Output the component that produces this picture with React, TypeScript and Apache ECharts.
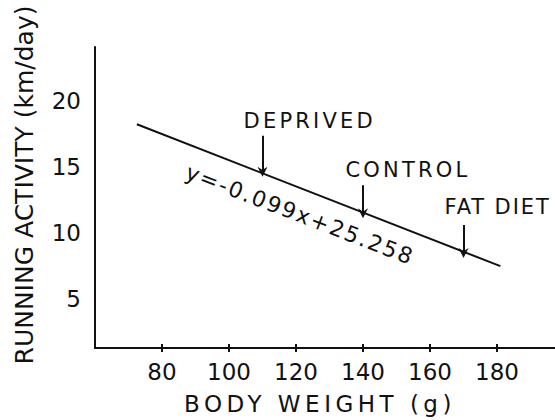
import React, { useEffect, useRef } from "react";
import * as echarts from "echarts";

// ---- data ----
const xMin = 60;
const xMax = 197.3;
const yMin = 1.3;
const yMax = 24.1;
const xTicks = [80, 100, 120, 140, 160, 180];
const yTicks = [5, 10, 15, 20];

// regression line endpoints (body weight g, running km/day)
const fitX = [72.5, 181];
const fitY = [18.25, 7.5];

// group annotations
const groups = ["DEPRIVED", "CONTROL", "FAT DIET"];
const arrowX = [110, 140, 170];
const arrowTop = [17.37, 13.62, 10.62];
const arrowTip = [14.65, 11.5, 8.5];
const labelX = [104.2, 134.6, 164.2];
const labelY = [18.48, 14.75, 11.95];
const labelSpacing = [3.2, 3.2, 1.9];

const equation = "y=-0.099x+25.258";
const equationPos = [121.2, 11.4];

const xName = "BODY WEIGHT (g)";
const yName = "RUNNING ACTIVITY (km/day)";

const INK = "#111";
const FONT = "DejaVu Sans";
const ARROW = "path://M5,0 L10,12 L5,8 L0,12 Z";

export default function App() {
  const ref = useRef<HTMLDivElement>(null);

  useEffect(() => {
    if (!ref.current) return;
    const chart = echarts.init(ref.current, undefined, { renderer: "svg" });

    const axisCommon = {
      type: "value" as const,
      min: xMin,
      max: xMax,
      splitLine: { show: false },
    };

    const option: any = {
      animation: false,
      grid: { left: 95, right: 0, top: 47, bottom: 69 },
      xAxis: [
        {
          ...axisCommon,
          name: xName,
          nameLocation: "middle",
          nameGap: 44,
          nameTextStyle: { fontSize: 23, color: INK, fontFamily: FONT, padding: [0, 10, 0, 0] },
          axisLine: { show: true, onZero: false, lineStyle: { color: INK, width: 2 } },
          axisTick: { show: true, inside: false, length: 4, lineStyle: { color: INK, width: 2 }, customValues: xTicks },
          axisLabel: { show: true, customValues: xTicks, fontSize: 23, color: INK, fontFamily: FONT, margin: 12 },
        },
        {
          ...axisCommon,
          position: "bottom",
          axisLine: { show: false },
          axisTick: { show: true, inside: true, length: 4, lineStyle: { color: INK, width: 2 }, customValues: xTicks },
          axisLabel: { show: false },
        },
      ],
      yAxis: {
        type: "value",
        min: yMin,
        max: yMax,
        splitLine: { show: false },
        name: yName,
        nameLocation: "middle",
        nameGap: 58,
        nameTextStyle: { fontSize: 25, color: INK, fontFamily: FONT, padding: [0, 0, 0, 25] },
        axisLine: { show: true, onZero: false, lineStyle: { color: INK, width: 2 } },
        axisTick: { show: false },
        axisLabel: { show: true, customValues: yTicks, fontSize: 23, color: INK, fontFamily: FONT, margin: 14 },
      },
      series: [
        {
          type: "line",
          xAxisIndex: 0,
          silent: true,
          showSymbol: false,
          symbol: "none",
          data: fitX.map((x, i) => [x, fitY[i]]),
          lineStyle: { color: INK, width: 2 },
          markLine: {
            silent: true,
            symbol: ["none", ARROW],
            symbolSize: 10,
            label: { show: false },
            lineStyle: { color: INK, width: 2, type: "solid" },
            itemStyle: { color: INK },
            data: arrowX.map((x, i) => [
              { coord: [x, arrowTop[i]] },
              { coord: [x, arrowTip[i]] },
            ]),
          },
          markPoint: {
            silent: true,
            symbol: "circle",
            symbolSize: 1,
            itemStyle: { color: "transparent" },
            data: [
              ...groups.map((g, i) => ({
                coord: [labelX[i], labelY[i]],
                label: {
                  show: true,
                  formatter: g,
                  position: "right",
                  distance: 0,
                  fontSize: 21,
                  color: INK,
                  fontFamily: FONT,
                },
              })),
              {
                coord: equationPos,
                label: {
                  show: true,
                  formatter: equation,
                  position: "inside",
                  rotate: -21,
                  fontSize: 22,
                  color: INK,
                  fontFamily: FONT,
                },
              },
            ],
          },
        },
      ],
    };

    chart.setOption(option);
    chart.getZr().flush();

    const spacing: Record<string, number> = {
      [xName]: 4.5,
      [equation]: 2,
    };
    groups.forEach((g, i) => (spacing[g] = labelSpacing[i]));
    const patch = () => {
      ref.current?.querySelectorAll("text").forEach((t) => {
        const s = (t.textContent || "").trim();
        if (spacing[s] !== undefined) t.style.letterSpacing = spacing[s] + "px";
      });
    };
    patch();
    chart.on("finished", patch);

    return () => chart.dispose();
  }, []);

  return (
    <div
      ref={ref}
      style={{ position: "fixed", left: 0, top: 0, width: 555, height: 420, background: "#fff" }}
    />
  );
}
